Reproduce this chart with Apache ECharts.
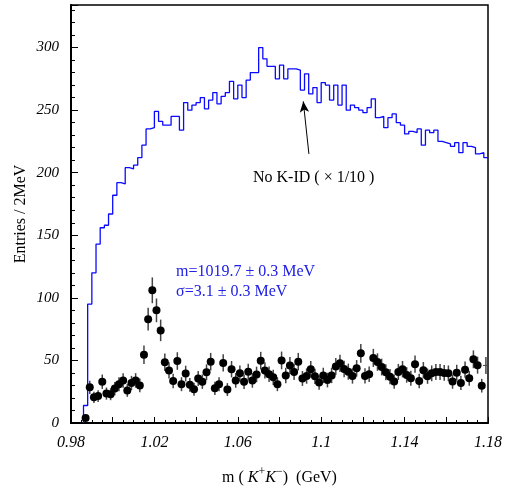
<!DOCTYPE html>
<html><head><meta charset="utf-8">
<script src="https://cdn.jsdelivr.net/npm/echarts@6/dist/echarts.min.js"></script>
<style>html,body{margin:0;padding:0;background:#fff}#c{width:515px;height:486px}</style>
</head><body><div id="c"></div>
<script>
// 2 MeV bins from 0.98 to 1.18 GeV
const binStart = 0.98;
const binWidth = 0.002;
// Histogram "No K-ID (x 1/10)"
const noKidScaled = [
  0, 0, 0, 14, 95, 120, 143, 156, 158, 167,
  182, 192, 191, 204, 203, 206, 212, 222, 235, 236,
  249, 241, 238, 238, 245, 245, 234, 256, 250, 254,
  256, 260, 251, 258, 264, 255, 261, 264, 273, 259,
  270, 260, 274, 280, 280, 300, 291, 285, 285, 275,
  286, 275, 283, 283, 282, 266, 279, 263, 268, 256,
  272, 270, 258, 270, 254, 270, 250, 254, 252, 250,
  248, 252, 259, 244, 245, 236, 244, 247, 240, 238,
  231, 233, 232, 235, 222, 234, 232, 234, 225, 224,
  223, 221, 224, 216, 224, 221, 220, 215, 216, 212
];
// Points with K-ID (entries per bin)
const kkEntries = [
  null, null, null, 4, 28.5, 20.5, 21.5, 33, 23.5, 23,
  27.5, 31, 34, 26, 32, 34, 30, 54.5, 83, 106,
  90, 74, 48.5, 42, 33.5, 49.5, 31, 39.5, 30.5, 27,
  35.5, 33, 40.5, 49, 27.7, 31, 48, 26.7, 43, 34,
  39.7, 33, 41, 34, 38.8, 49.8, 42, 39, 36.5, 31,
  50, 38, 46, 40.8, 49, 35.6, 37.5, 43, 37.3, 32.3,
  38, 34.3, 38, 45.2, 47.7, 43.2, 41, 37.6, 43.7, 55.7,
  37.6, 38.9, 52, 48.7, 44.7, 40.5, 37, 33.1, 40.8, 43,
  38.4, 35.7, 47, 33.6, 42.2, 37.4, 39.7, 40.8, 40.7, 40,
  39.7, 33.1, 40.2, 32, 42.6, 35.8, 50.9, 46.2, 29.8, 46
];
const xTickLabels = ['0.98', '1.02', '1.06', '1.1', '1.14', '1.18'];
const yTickLabels = ['0', '50', '100', '150', '200', '250', '300'];

const FONT = 'Liberation Serif';

// build step outline of the histogram
const histLine = [];
let started = false;
noKidScaled.forEach((v, i) => {
  const lo = binStart + i * binWidth, hi = lo + binWidth;
  if (!started) {
    if (v <= 0) return;
    started = true;
    histLine.push([lo, 0]);
  }
  histLine.push([lo, v], [hi, v]);
});

const pts = [], errs = [];
kkEntries.forEach((v, i) => {
  if (v == null) return;
  const c = binStart + (i + 0.5) * binWidth;
  errs.push([c, v, Math.sqrt(v), i === kkEntries.length - 1 ? 1 : 0]);
  if (i !== kkEntries.length - 1) pts.push([c, v]);
});

const chart = echarts.init(document.getElementById('c'), null, {renderer: 'canvas'});
chart.setOption({
  animation: false,
  backgroundColor: '#fff',
  textStyle: {fontFamily: FONT},
  grid: {left: 71, right: 27, top: 5, bottom: 63, outerBoundsMode: 'none', containLabel: false,
    show: true, borderColor: '#000', borderWidth: 1.5, backgroundColor: 'transparent'},
  xAxis: [{
    type: 'value', min: 0.98, max: 1.18, interval: 0.02,
    axisLine: {show: true, onZero: false, lineStyle: {color: '#000', width: 2}},
    axisTick: {show: true, inside: true, length: 6, lineStyle: {color: '#000', width: 1}},
    minorTick: {show: true, splitNumber: 4, length: 3, lineStyle: {color: '#000', width: 1}},
    splitLine: {show: false},
    axisLabel: {
      margin: 12, color: '#000', fontFamily: FONT, fontStyle: 'italic', fontSize: 16,
      formatter: v => {
        const k = Math.round((v - 0.98) / 0.02);
        return k % 2 === 0 ? (xTickLabels[k / 2] || '') : '';
      }
    },
    name: '{n|m ( }{i|K}{s|+}{i|K}{s|\u2212}{n|)  (GeV)}',
    nameLocation: 'middle', nameGap: 43, nameMoveOverlap: false,
    nameTextStyle: {
      rich: {
        n: {fontFamily: FONT, fontSize: 16, color: '#000', lineHeight: 24},
        i: {fontFamily: FONT, fontSize: 16, fontStyle: 'italic', color: '#000', lineHeight: 24},
        s: {fontFamily: FONT, fontSize: 12, color: '#000', lineHeight: 10, verticalAlign: 'top'}
      }
    }
  }],
  yAxis: [{
    type: 'value', min: 0, max: 334, interval: 50,
    axisLine: {show: true, onZero: false, lineStyle: {color: '#000', width: 2}},
    axisTick: {show: true, inside: true, length: 7, lineStyle: {color: '#000', width: 1}},
    splitLine: {show: false},
    axisLabel: {
      margin: 12, color: '#000', fontFamily: FONT, fontStyle: 'italic', fontSize: 15,
      formatter: v => (Math.abs(v % 50) < 1e-6 ? (yTickLabels[Math.round(v / 50)] || '') : '')
    },
    name: 'Entries / 2MeV', nameLocation: 'middle', nameGap: 42, nameRotate: 90, nameMoveOverlap: false,
    nameTextStyle: {fontFamily: FONT, fontSize: 16, color: '#000'}
  }, {
    type: 'value', min: 0, max: 334, interval: 10, position: 'left',
    axisLine: {show: false},
    axisTick: {show: true, inside: true, length: 4, lineStyle: {color: '#000', width: 1}},
    axisLabel: {show: false}, splitLine: {show: false}
  }],
  series: [{
    type: 'line', data: histLine, showSymbol: false, symbol: 'none',
    lineStyle: {color: '#0a0aff', width: 1.3}, clip: true, z: 2,
    markLine: {
      silent: true, symbol: ['none', 'arrow'], symbolSize: [7, 11],
      lineStyle: {color: '#000', width: 1, type: 'solid'}, label: {show: false},
      data: [[{coord: [1.0941, 215]}, {coord: [1.0914, 257]}]]
    }
  }, {
    type: 'custom', data: errs, clip: true, z: 3,
    renderItem: (params, api) => {
      const x = api.value(0), v = api.value(1), e = api.value(2);
      const p1 = api.coord([x, v - e]), p2 = api.coord([x, v + e]);
      const children = [{type: 'line', shape: {x1: p1[0], y1: p1[1], x2: p2[0], y2: p2[1]}, style: {stroke: '#444', lineWidth: 1.5}}];
      if (api.value(3) === 1) {
        const c = api.coord([x, v]);
        children.push({type: 'line', shape: {x1: c[0] - 3, y1: c[1], x2: c[0] + 3, y2: c[1]}, style: {stroke: '#444', lineWidth: 1}});
      }
      return {type: 'group', children};
    }
  }, {
    type: 'scatter', data: pts, symbol: 'circle', symbolSize: 8,
    itemStyle: {color: '#000', opacity: 1}, z: 4, clip: true
  }],
  graphic: [
    {type: 'text', z: 10, style: {x: 253, y: 178, text: 'No K-ID ( \u00d7 1/10 )', fill: '#000', font: '16px "Liberation Serif"', verticalAlign: 'middle'}},
    {type: 'text', z: 10, style: {x: 176, y: 272, text: 'm=1019.7 \u00b1 0.3 MeV', fill: '#2020e6', font: '16px "Liberation Serif"', verticalAlign: 'middle'}},
    {type: 'text', z: 10, style: {x: 176, y: 292, text: '\u03c3=3.1 \u00b1 0.3 MeV', fill: '#2020e6', font: '16px "Liberation Serif"', verticalAlign: 'middle'}}
  ]
});
</script>
</body></html>
